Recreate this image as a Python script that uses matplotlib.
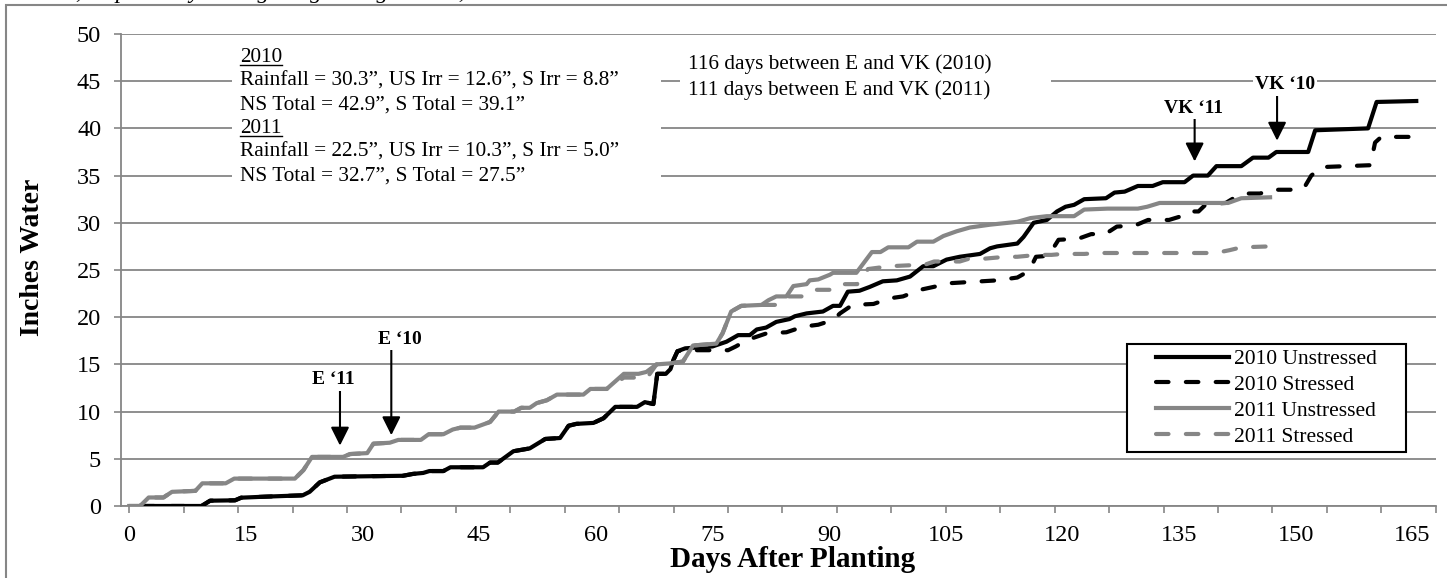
import matplotlib
matplotlib.use('Agg')
import matplotlib.pyplot as plt
from matplotlib.patches import Rectangle
from matplotlib.lines import Line2D

plt.rcParams['font.family'] = ['Liberation Serif', 'DejaVu Serif']
plt.rcParams['lines.scale_dashes'] = False

# 2010 -- shared part (both treatments identical up to ~day 70)
days_10_early = [1.6, 9.3, 10.4, 13.6, 14.4, 17.6, 22.3, 23.2, 24.5, 26.4, 35.2, 36.5, 37.8,
                 38.6, 40.4, 41.3, 45.5, 46.4, 47.4, 49.4, 51.5, 53.5, 55.4, 56.5, 57.5, 59.7,
                 61.0, 62.5, 65.3, 66.3, 67.4, 67.9, 69.0, 69.6, 70.0, 70.5]
vals_10_early = [0, 0, 0.56, 0.6, 0.88, 0.99, 1.13, 1.5, 2.5, 3.1, 3.2, 3.4, 3.5,
                 3.7, 3.7, 4.1, 4.1, 4.6, 4.6, 5.8, 6.1, 7.1, 7.2, 8.5, 8.7, 8.8,
                 9.3, 10.5, 10.5, 11.0, 10.8, 14.0, 14.0, 14.5, 15.5, 16.4]

# 2010 unstressed after day 70
days_u10_late = [71.5, 75.0, 76.8, 78.3, 79.8, 80.7, 81.9, 83.2, 84.9, 85.6, 87.1, 89.2, 90.5,
                 91.4, 92.4, 93.9, 95.2, 96.9, 98.7, 100.4, 102.1, 103.4, 105.1, 106.8, 109.4,
                 110.7, 111.6, 114.2, 115.0, 116.3, 118.0, 119.3, 120.4, 121.5, 122.8, 125.6,
                 126.7, 128.0, 129.7, 131.6, 132.9, 135.7, 136.8, 138.7, 139.8, 143.0, 144.5,
                 146.5, 147.5, 151.6, 152.5, 159.3, 160.4, 165.5]
vals_u10_late = [16.7, 16.9, 17.4, 18.1, 18.1, 18.7, 18.9, 19.5, 19.8, 20.1, 20.4, 20.6, 21.2,
                 21.2, 22.7, 22.8, 23.2, 23.8, 23.9, 24.3, 25.4, 25.4, 26.1, 26.4, 26.7,
                 27.3, 27.5, 27.8, 28.5, 30.0, 30.3, 31.2, 31.7, 31.9, 32.5, 32.6,
                 33.2, 33.3, 33.9, 33.9, 34.3, 34.3, 35.0, 35.0, 36.0, 36.0, 36.9,
                 36.9, 37.5, 37.5, 39.8, 40.0, 42.8, 42.9]

# 2010 stressed after day 70
days_s10_late = [71.5, 77.0, 78.0, 79.5, 82.0, 84.5, 86.7, 88.6, 90.5, 91.4, 93.0, 95.7, 97.8,
                 99.5, 101.7, 103.4, 105.5, 111.6, 114.2, 115.7, 116.6, 118.2, 119.5, 122.0,
                 123.7, 125.5, 127.0, 129.3, 131.0, 133.7, 135.7, 136.2, 137.5, 138.5, 141.0,
                 142.0, 143.5, 145.4, 147.1, 149.3, 151.0, 152.0, 153.3, 159.6, 160.2, 161.0, 165.4]
vals_s10_late = [16.5, 16.5, 16.9, 17.6, 18.3, 18.4, 19.0, 19.2, 19.7, 20.4, 21.3, 21.4, 22.0,
                 22.2, 22.9, 23.2, 23.6, 23.9, 24.2, 24.9, 26.4, 26.5, 28.2, 28.3,
                 28.8, 28.8, 29.6, 29.7, 30.3, 30.3, 30.8, 31.2, 31.2, 32.0, 32.1,
                 32.6, 33.1, 33.1, 33.5, 33.5, 33.6, 35.0, 35.9, 36.1, 38.5, 39.1, 39.1]

# 2011 unstressed
days_u11 = [0, 1.4, 2.5, 4.4, 5.5, 8.5, 9.4, 12.4, 13.5, 21.3, 22.4, 23.5, 27.5, 28.4, 30.6,
            31.4, 33.5, 34.6, 37.5, 38.5, 40.4, 41.6, 42.6, 44.4, 46.4, 47.5, 49.5, 50.4, 51.5,
            52.4, 53.7, 55.0, 58.4, 59.3, 61.4, 63.6, 65.5, 66.5, 67.8, 69.5, 71.2, 72.5, 75.5,
            76.3, 77.4, 78.7, 81.3, 82.2, 83.2, 84.5, 85.4, 87.1, 87.5, 88.6, 90.1, 90.5, 93.5,
            95.5, 96.6, 97.6, 100.2, 101.3, 103.4, 104.7, 106.4, 108.1, 110.7, 114.2, 115.9,
            118.0, 121.5, 122.8, 125.8, 129.7, 130.9, 132.5, 141.3, 143.0, 146.7]
vals_u11 = [0, 0, 0.9, 0.9, 1.5, 1.6, 2.4, 2.4, 2.9, 2.9, 3.8, 5.2, 5.2, 5.5, 5.6,
            6.6, 6.7, 7.0, 7.0, 7.6, 7.6, 8.1, 8.3, 8.3, 8.9, 10.0, 10.0, 10.4, 10.4,
            10.9, 11.2, 11.8, 11.8, 12.4, 12.4, 14.0, 14.0, 14.2, 15.0, 15.1, 15.3, 17.0, 17.2,
            18.3, 20.6, 21.2, 21.3, 21.8, 22.2, 22.2, 23.3, 23.5, 23.9, 24.0, 24.5, 24.7, 24.7,
            26.9, 26.9, 27.4, 27.4, 28.0, 28.0, 28.6, 29.1, 29.5, 29.8, 30.1, 30.5,
            30.7, 30.7, 31.4, 31.5, 31.5, 31.7, 32.1, 32.1, 32.6, 32.7]

# 2011 stressed (follows unstressed early on)
days_s11 = [0, 1.4, 2.5, 4.4, 5.5, 8.5, 9.4, 12.4, 13.5, 21.3, 22.4, 23.5, 27.5, 28.4, 30.6,
            31.4, 33.5, 34.6, 37.5, 38.5, 40.4, 41.6, 42.6, 44.4, 46.4, 47.5, 49.5, 50.4, 51.5,
            52.4, 53.7, 55.0, 58.4, 59.3, 61.4, 63.6, 66.6, 67.8, 69.5, 71.2, 72.5, 75.5,
            76.3, 77.4, 78.7, 81.3, 83.3, 84.5, 86.7, 88.0, 91.0, 92.0, 93.6, 95.0, 97.8,
            100.4, 102.1, 103.5, 106.8, 108.0, 110.0, 112.7, 114.2, 116.8, 118.6, 120.0, 122.8,
            124.7, 139.7, 141.5, 143.0, 146.7]
vals_s11 = [0, 0, 0.9, 0.9, 1.5, 1.6, 2.4, 2.4, 2.9, 2.9, 3.8, 5.2, 5.2, 5.5, 5.6,
            6.6, 6.7, 7.0, 7.0, 7.6, 7.6, 8.1, 8.3, 8.3, 8.9, 10.0, 10.0, 10.4, 10.4,
            10.9, 11.2, 11.8, 11.8, 12.4, 12.4, 13.6, 13.6, 15.0, 15.1, 15.3, 17.0, 17.2,
            18.3, 20.6, 21.2, 21.3, 21.3, 22.2, 22.2, 22.9, 22.9, 23.5, 23.5, 25.1, 25.4,
            25.5, 25.5, 25.9, 25.9, 26.2, 26.2, 26.4, 26.4, 26.6, 26.6, 26.7, 26.7,
            26.8, 26.8, 27.1, 27.4, 27.5]

days_u10 = days_10_early + days_u10_late
vals_u10 = vals_10_early + vals_u10_late
days_s10 = days_10_early + days_s10_late
vals_s10 = vals_10_early + vals_s10_late

x_labels = list(range(0, 166, 15))

# arrow annotations: label, label x, label y, arrow x (day), tail y, head y
markers = [("E \u201811", 26.3, 13.35, 27.1, 12.3, 6.4),
           ("E \u201810", 34.8, 17.65, 33.7, 16.5, 7.5),
           ("VK \u201811", 136.8, 42.1, 137.0, 41.1, 36.5),
           ("VK \u201810", 148.6, 44.6, 147.6, 43.7, 38.7)]

summary_lines = ["2010",
                 "Rainfall = 30.3\u201d, US Irr = 12.6\u201d, S Irr = 8.8\u201d",
                 "NS Total = 42.9\u201d, S Total = 39.1\u201d",
                 "2011",
                 "Rainfall = 22.5\u201d, US Irr = 10.3\u201d, S Irr = 5.0\u201d",
                 "NS Total = 32.7\u201d, S Total = 27.5\u201d"]
underlined = [0, 3]
days_text = ("116 days between E and VK (2010)\n"
             "111 days between E and VK (2011)")

grey = '#868686'
dash = (9, 12.5)
summary_spacing = 1.33
fig = plt.figure(figsize=(14.47, 5.78), dpi=100)
ax = fig.add_axes([0.0834, 0.1246, 0.9088, 0.8166])

ax.plot(days_u10, vals_u10, color='black', lw=3, label='2010 Unstressed', zorder=3)
ax.plot(days_s10, vals_s10, color='black', lw=3, dashes=dash, dash_capstyle='round',
        label='2010 Stressed', zorder=3)
ax.plot(days_u11, vals_u11, color=grey, lw=3, label='2011 Unstressed', zorder=3)
ax.plot(days_s11, vals_s11, color=grey, lw=3, dashes=dash, dash_capstyle='round',
        label='2011 Stressed', zorder=3)

ax.set_xlim(-1.1, 168)
ax.set_ylim(0, 50)
ax.set_yticks(range(0, 51, 5))
ax.xaxis.remove_overlapping_locs = False
ax.set_xticks(range(0, 169, 7))
ax.set_xticklabels([])
ax.set_xticks(x_labels, minor=True)
ax.set_xticklabels([str(v) for v in x_labels], minor=True)
ax.tick_params(axis='x', which='major', direction='out', length=5, color=grey, width=1.2)
ax.tick_params(axis='x', which='minor', length=0, pad=13.6, labelsize=17.5)
ax.tick_params(axis='y', direction='out', length=5, color=grey, width=1.2, pad=9, labelsize=17.5)
ax.grid(axis='y', color=grey, lw=1.3, zorder=0)
ax.set_axisbelow(True)
for side in ['top', 'right']:
    ax.spines[side].set_visible(False)
for side in ['left', 'bottom']:
    ax.spines[side].set_color(grey)
    ax.spines[side].set_linewidth(1.3)

ax.set_ylabel('Inches Water', fontsize=20, fontweight='bold', va='center')
ax.yaxis.set_label_coords(-0.067, 0.5265)
ax.set_xlabel('Days After Planting', fontsize=21, fontweight='bold', va='center')
ax.xaxis.set_label_coords(0.511, -0.1144)

# white text boxes hiding the gridlines behind the notes
ax.add_patch(Rectangle((0.0846, 0.66), 0.3264, 0.327, transform=ax.transAxes,
                       facecolor='white', edgecolor='none', zorder=1))
ax.add_patch(Rectangle((0.4254, 0.85), 0.2821, 0.127, transform=ax.transAxes,
                       facecolor='white', edgecolor='none', zorder=1))

summary = ax.text(14.2, 48.5, '\n'.join(summary_lines), fontsize=15.3, va='top', ha='left',
                  linespacing=summary_spacing, zorder=4)
ax.text(71.9, 47.8, days_text, fontsize=15.3, va='top', ha='left', linespacing=1.36, zorder=4)

for label, tx, ty, xd, y0, y1 in markers:
    ax.annotate('', xy=(xd, y1), xytext=(xd, y0),
                arrowprops=dict(arrowstyle='-|>', color='black', lw=1.5,
                                mutation_scale=28, shrinkA=0, shrinkB=0), zorder=5)
    ax.text(tx, ty, label, fontsize=14, fontweight='bold', ha='center', va='center',
            bbox=dict(facecolor='white', edgecolor='none', pad=1.5), zorder=5)

# legend frame drawn separately so the entries sit centred in a wider box
ax.add_patch(Rectangle((0.765, 0.115), 0.2125, 0.228, transform=ax.transAxes,
                       facecolor='white', edgecolor='black', lw=1.5, zorder=4.5))
leg = ax.legend(loc='center', bbox_to_anchor=(0.87125, 0.229), fontsize=15.5,
                handlelength=3.4, labelspacing=0.27, borderpad=0.2, handletextpad=0.25,
                frameon=False)
leg.set_zorder(5)

# underline the year headings inside the summary block (baseline of each line)
renderer = fig.canvas.get_renderer()
block = summary.get_window_extent(renderer)
_, lp_h, lp_d = renderer.get_text_width_height_descent('lp', summary.get_fontproperties(),
                                                       ismath=False)
pitch = lp_d + (lp_h - lp_d) * summary_spacing
base0 = block.y1 - (lp_h - lp_d)
probe = ax.text(0, 0, '2010', fontsize=15.3)
year_w = probe.get_window_extent(renderer).width
probe.remove()
inv = fig.transFigure.inverted()
for i in underlined:
    yb = base0 - i * pitch - 2.5
    (x0, yy), (x1, _) = inv.transform([(block.x0, yb), (block.x0 + year_w, yb)])
    fig.add_artist(Line2D([x0, x1], [yy, yy], color='black', lw=1, zorder=6))

# outer chart border and clipped caption from the page
fig.patches.append(Rectangle((0.0041, -0.05), 1.1, 1.0413, transform=fig.transFigure,
                             fill=False, edgecolor=grey, lw=1.5))
fig.text(0.038, 1.004, 'ce, respectively during the growing season, and', fontsize=17,
         style='italic', va='baseline', ha='left')

fig.savefig('out.png', dpi=100)
